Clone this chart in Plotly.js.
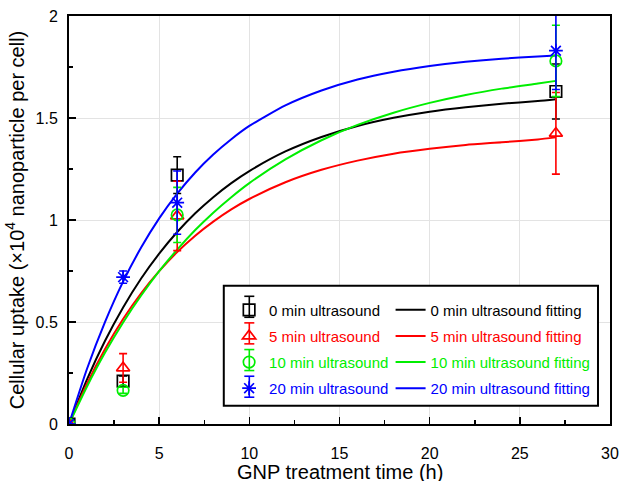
<!DOCTYPE html>
<html>
<head>
<meta charset="utf-8">
<script src="https://cdn.plot.ly/plotly-3.0.1.min.js"></script>
<style>html,body{margin:0;padding:0;background:#fff;}#chart{width:620px;height:481px;}</style>
</head>
<body>
<div id="chart"></div>
<script>
// Measured points
const timeH = [0, 3, 6, 27];
const us0 = [0, 0.21, 1.22, 1.63];
const us0Err = [0, 0.025, 0.09, 0.135];
const us5 = [0, 0.275, 1.02, 1.425];
const us5Err = [0, 0.07, 0.17, 0.2];
const us10 = [0, 0.165, 1.025, 1.78];
const us10Err = [0, 0.015, 0.135, 0.175];
const us20 = [0, 0.72, 1.085, 1.83];
const us20Err = [0, 0.03, 0.155, 0.19];

// Fitting curves
const fitTime = [0, 1, 2, 3, 4, 5, 6, 7, 8, 9, 10, 12, 14, 16, 18, 20, 22, 24, 26, 27];
const fit0 = [0, 0.219, 0.408, 0.571, 0.713, 0.835, 0.941, 1.033, 1.112, 1.181, 1.240, 1.336, 1.407, 1.461, 1.501, 1.531, 1.553, 1.570, 1.583, 1.592];
const fit5 = [0, 0.198, 0.368, 0.515, 0.641, 0.749, 0.843, 0.923, 0.992, 1.052, 1.103, 1.185, 1.246, 1.291, 1.325, 1.349, 1.368, 1.381, 1.395, 1.405];
const fit10 = [0, 0.184, 0.350, 0.498, 0.630, 0.749, 0.855, 0.951, 1.036, 1.112, 1.181, 1.297, 1.391, 1.466, 1.526, 1.574, 1.613, 1.644, 1.669, 1.682];
const fit20 = [0, 0.271, 0.501, 0.698, 0.865, 1.008, 1.129, 1.233, 1.321, 1.396, 1.461, 1.562, 1.635, 1.689, 1.727, 1.755, 1.776, 1.791, 1.801, 1.806];

const names = ['0 min ultrasound', '5 min ultrasound', '10 min ultrasound', '20 min ultrasound'];
const xTitle = 'GNP treatment time (h)';
const yTitle = 'Cellular uptake (×10<sup>4</sup> nanoparticle per cell)';
const colors = ['#000000', '#ff0000', '#00ee00', '#0000ff'];
const symbols = ['square-open', 'triangle-up-open', 'circle-open', 'asterisk-open'];
const ptsY = [us0, us5, us10, us20];
const ptsErr = [us0Err, us5Err, us10Err, us20Err];
const fitsY = [fit0, fit5, fit10, fit20];

const traces = [];
for (let i = 0; i < 4; i++) {
  traces.push({
    x: fitTime, y: fitsY[i], type: 'scatter', mode: 'lines',
    line: {color: colors[i], width: 2, shape: 'spline', smoothing: 0.6},
    name: '<span style="color:' + colors[i] + '">' + names[i] + ' fitting</span>',
    legend: 'legend2', legendgroup: 'f' + i
  });
}
for (let i = 0; i < 4; i++) {
  traces.push({
    x: timeH, y: ptsY[i], type: 'scatter', mode: 'markers',
    marker: {symbol: symbols[i], color: colors[i], size: 11.5, line: {color: colors[i], width: 1.7}},
    error_y: {type: 'data', array: ptsErr[i], visible: true, color: colors[i], thickness: 1.6, width: 4},
    name: '<span style="color:' + colors[i] + '">' + names[i] + '</span>',
    legend: 'legend', legendgroup: 'p' + i
  });
}

const font = {family: 'Liberation Sans, Arial, sans-serif', size: 15, color: '#000'};
const tickFont = {family: 'Liberation Sans, Arial, sans-serif', size: 16, color: '#000'};
const titleFont = {family: 'Liberation Sans, Arial, sans-serif', size: 20, color: '#000'};
const plotL = 69.3, plotR = 610, plotT = 15.7, plotB = 424;
const W = 620, H = 481;
const pw = plotR - plotL, ph = plotB - plotT;
const px = v => (v - plotL) / pw;
const py = v => (plotB - v) / ph;

// legend box + error-bar glyphs for the marker legend entries
const shapes = [{
  type: 'rect', xref: 'paper', yref: 'paper',
  x0: px(224), x1: px(598), y0: py(405.7), y1: py(285.7),
  line: {color: '#000', width: 2}, fillcolor: '#fff', layer: 'above'
}];
const rowY = [306.7, 333.3, 360, 386.7];
const iconX = 249.5;
for (let i = 0; i < 4; i++) {
  const yc = rowY[i];
  shapes.push({type: 'line', xref: 'paper', yref: 'paper', x0: px(iconX), x1: px(iconX), y0: py(yc - 10.5), y1: py(yc + 10.5), line: {color: colors[i], width: 1.6}, layer: 'above'});
  shapes.push({type: 'line', xref: 'paper', yref: 'paper', x0: px(iconX - 5), x1: px(iconX + 5), y0: py(yc - 10.5), y1: py(yc - 10.5), line: {color: colors[i], width: 1.6}, layer: 'above'});
  shapes.push({type: 'line', xref: 'paper', yref: 'paper', x0: px(iconX - 5), x1: px(iconX + 5), y0: py(yc + 10.5), y1: py(yc + 10.5), line: {color: colors[i], width: 1.6}, layer: 'above'});
}

const layout = {
  width: W, height: H,
  margin: {l: plotL, r: W - plotR, t: plotT, b: H - plotB, pad: 0},
  paper_bgcolor: '#fff', plot_bgcolor: '#fff',
  font: font,
  showlegend: true,
  xaxis: {
    range: [0, 30], dtick: 5, tick0: 0,
    ticks: 'inside', ticklen: 7, tickwidth: 1.5, tickcolor: '#000',
    minor: {dtick: 2.5, ticks: 'inside', ticklen: 4, tickwidth: 1.5, tickcolor: '#000', showgrid: false},
    showline: true, linewidth: 2, linecolor: '#000', mirror: true,
    showgrid: true, gridcolor: '#e3e3e3', gridwidth: 1,
    zeroline: false, ticklabelstandoff: 14,
    tickfont: tickFont
  },
  yaxis: {
    range: [0, 2], dtick: 0.5, tick0: 0,
    ticks: 'inside', ticklen: 7, tickwidth: 1.5, tickcolor: '#000',
    minor: {dtick: 0.25, ticks: 'inside', ticklen: 4, tickwidth: 1.5, tickcolor: '#000', showgrid: false},
    showline: true, linewidth: 2, linecolor: '#000', mirror: true,
    showgrid: true, gridcolor: '#e3e3e3', gridwidth: 1,
    zeroline: false, ticklabelstandoff: 6,
    tickfont: tickFont,
    title: {text: yTitle, font: titleFont, standoff: 6}
  },
  annotations: [{
    text: xTitle, xref: 'paper', yref: 'paper', x: 0.5, y: py(472),
    xanchor: 'center', yanchor: 'middle', showarrow: false, font: titleFont
  }],
  legend: {
    x: px(229.3), y: py(293.5), xanchor: 'left', yanchor: 'top',
    bgcolor: 'rgba(0,0,0,0)', borderwidth: 0, font: font,
    traceorder: 'grouped', tracegroupgap: 3.6
  },
  legend2: {
    x: px(390.7), y: py(293.5), xanchor: 'left', yanchor: 'top',
    bgcolor: 'rgba(0,0,0,0)', borderwidth: 0, font: font,
    traceorder: 'grouped', tracegroupgap: 3.6
  },
  shapes: shapes
};

Plotly.newPlot('chart', traces, layout, {displayModeBar: false, staticPlot: true});
</script>
</body>
</html>
